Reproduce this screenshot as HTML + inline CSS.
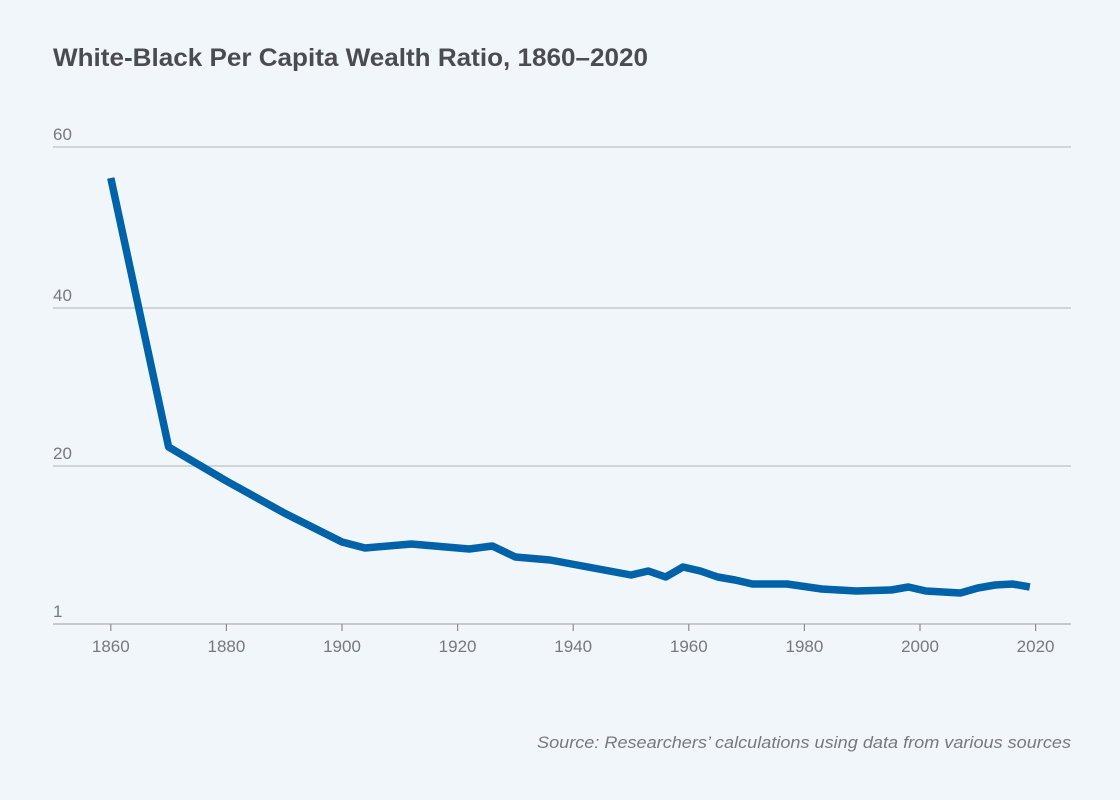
<!DOCTYPE html>
<html><head><meta charset="utf-8"><style>
body{margin:0;background:#f1f6fa;}
svg{display:block}
</style></head><body>
<svg width="1120" height="800" xmlns="http://www.w3.org/2000/svg">
<rect width="1120" height="800" fill="#f1f6fa"/>
<text x="53" y="66" font-family="Liberation Sans, sans-serif" font-size="25" font-weight="bold" fill="#4a4c50" textLength="595" lengthAdjust="spacingAndGlyphs">White-Black Per Capita Wealth Ratio, 1860–2020</text>
<g stroke="#c6cad0" stroke-width="1.5">
<line x1="53" y1="147" x2="1071" y2="147"/>
<line x1="53" y1="308" x2="1071" y2="308"/>
<line x1="53" y1="466" x2="1071" y2="466"/>
<line x1="53" y1="624" x2="1071" y2="624" stroke="#b8bcc2"/>
</g>
<g font-family="Liberation Sans, sans-serif" font-size="17" fill="#77797d">
<text x="53" y="140">60</text>
<text x="53" y="301">40</text>
<text x="53" y="459">20</text>
<text x="53" y="617">1</text>
</g>
<g stroke="#8a8d92" stroke-width="1.2">
<line x1="110.8" y1="624" x2="110.8" y2="631"/>
<line x1="226.4" y1="624" x2="226.4" y2="631"/>
<line x1="342" y1="624" x2="342" y2="631"/>
<line x1="457.6" y1="624" x2="457.6" y2="631"/>
<line x1="573.2" y1="624" x2="573.2" y2="631"/>
<line x1="688.8" y1="624" x2="688.8" y2="631"/>
<line x1="804.4" y1="624" x2="804.4" y2="631"/>
<line x1="920" y1="624" x2="920" y2="631"/>
<line x1="1035.6" y1="624" x2="1035.6" y2="631"/>
</g>
<g font-family="Liberation Sans, sans-serif" font-size="17" fill="#77797d" text-anchor="middle">
<text x="110.8" y="652">1860</text>
<text x="226.4" y="652">1880</text>
<text x="342" y="652">1900</text>
<text x="457.6" y="652">1920</text>
<text x="573.2" y="652">1940</text>
<text x="688.8" y="652">1960</text>
<text x="804.4" y="652">1980</text>
<text x="920" y="652">2000</text>
<text x="1035.6" y="652">2020</text>
</g>
<polyline fill="none" stroke="#0062a8" stroke-width="7.5" stroke-linejoin="round"
points="110.8,178 168.6,447 226.4,481 284.2,513 342,542 365.1,548 411.4,544 469.2,549 492.3,546 515.4,557 550.1,560 631,575 648.3,571 665.7,577 683,567 700.4,571 717.7,577 735,580 752.4,584 787.1,584 821.7,589 856.4,591 891.1,590 908.4,587 925.8,591 960.4,593 977.8,588 995.1,585 1012.5,584 1029.8,587"/>
<text x="1071" y="748" text-anchor="end" font-family="Liberation Sans, sans-serif" font-size="17" font-style="italic" fill="#77797d" textLength="534" lengthAdjust="spacingAndGlyphs">Source: Researchers’ calculations using data from various sources</text>
</svg>
</body></html>
